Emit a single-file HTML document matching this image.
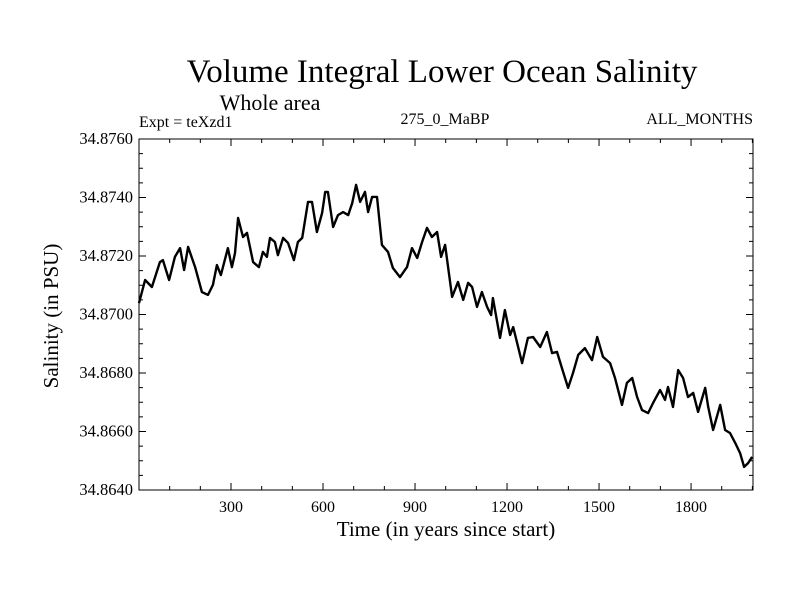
<!DOCTYPE html>
<html><head><meta charset="utf-8"><style>
body{margin:0;background:#fff}
svg text{font-family:"Liberation Serif",serif;fill:#000}
</style></head><body>
<svg id="chart" width="800" height="600" xmlns="http://www.w3.org/2000/svg">
<text x="442" y="82" font-size="33" text-anchor="middle">Volume Integral Lower Ocean Salinity</text>
<text x="270" y="110" font-size="22" text-anchor="middle">Whole area</text>
<text x="139" y="127" font-size="16">Expt = teXzd1</text>
<text x="445" y="124" font-size="16" text-anchor="middle">275_0_MaBP</text>
<text x="753" y="124" font-size="16" text-anchor="end">ALL_MONTHS</text>
<text x="446" y="536" font-size="21" text-anchor="middle">Time (in years since start)</text>
<text transform="translate(58,316) rotate(-90)" font-size="21" text-anchor="middle">Salinity (in PSU)</text>
<g id="axes"></g>
<path id="line" fill="none" stroke="#000" stroke-width="2.4" stroke-linejoin="round"/>
<rect x="139" y="139" width="614" height="351" fill="none" stroke="#000" stroke-width="1"/>
</svg>
<script>
const years=[0,20,42,68,78,98,117,134,147,160,183,205,225,241,254,267,290,303,313,323,339,352,372,391,404,417,427,443,453,470,486,505,518,532,551,564,580,597,607,616,633,649,665,682,695,708,721,737,747,760,776,792,812,828,851,874,890,907,923,939,955,972,985,998,1021,1040,1057,1073,1086,1102,1118,1135,1148,1154,1177,1193,1210,1220,1249,1268,1285,1308,1330,1347,1363,1379,1399,1415,1432,1454,1477,1494,1513,1536,1552,1575,1591,1608,1624,1640,1660,1676,1699,1715,1725,1741,1758,1774,1790,1807,1823,1846,1856,1872,1895,1911,1927,1944,1960,1973,1986,1999];
const salinity=[34.87039,34.87118,34.87094,34.87179,34.87186,34.87118,34.87197,34.87227,34.87152,34.87231,34.87162,34.87077,34.87067,34.87101,34.87169,34.87135,34.87227,34.87162,34.87210,34.87330,34.87265,34.87279,34.87179,34.87162,34.87214,34.87197,34.87262,34.87248,34.87203,34.87262,34.87244,34.87186,34.87248,34.87262,34.87385,34.87385,34.87282,34.87347,34.87419,34.87419,34.87299,34.87340,34.87350,34.87340,34.87381,34.87443,34.87385,34.87419,34.87350,34.87402,34.87402,34.87238,34.87214,34.87159,34.87128,34.87162,34.87227,34.87193,34.87248,34.87296,34.87265,34.87282,34.87197,34.87238,34.87060,34.87111,34.87050,34.87108,34.87094,34.87026,34.87077,34.87026,34.86998,34.87056,34.86920,34.87015,34.86930,34.86957,34.86834,34.86920,34.86923,34.86889,34.86940,34.86868,34.86872,34.86817,34.86749,34.86800,34.86862,34.86885,34.86844,34.86923,34.86855,34.86834,34.86783,34.86691,34.86766,34.86783,34.86718,34.86673,34.86663,34.86697,34.86742,34.86708,34.86752,34.86684,34.86810,34.86783,34.86718,34.86732,34.86667,34.86749,34.86684,34.86605,34.86691,34.86605,34.86595,34.86561,34.86526,34.86479,34.86492,34.86513];
const xTicks=[300,600,900,1200,1500,1800];
const yTicks=[34.864,34.866,34.868,34.870,34.872,34.874,34.876];
const X0=139,X1=753,Y0=139,Y1=490,XMIN=0,XMAX=2002,YMIN=34.864,YMAX=34.876;
const xs=v=>X0+(v-XMIN)/(XMAX-XMIN)*(X1-X0);
const ys=v=>Y1-(v-YMIN)/(YMAX-YMIN)*(Y1-Y0);
const NS='http://www.w3.org/2000/svg';
const axes=document.getElementById('axes');
function ln(x1,y1,x2,y2){const l=document.createElementNS(NS,'line');l.setAttribute('x1',x1);l.setAttribute('y1',y1);l.setAttribute('x2',x2);l.setAttribute('y2',y2);l.setAttribute('stroke','#000');axes.appendChild(l);return l;}
for(let v=100;v<XMAX;v+=100){const maj=v%300===0;const L=maj?7:4;
const a=ln(xs(v),Y1,xs(v),Y1-L);
const b=ln(xs(v),Y0,xs(v),Y0+L);}
for(let i=0;i<=24;i++){const v=YMIN+i*0.0005;const maj=i%4===0;const L=maj?7:4;
const a=ln(X0,ys(v),X0+L,ys(v));
const b=ln(X1,ys(v),X1-L,ys(v));}
xTicks.forEach(v=>{const t=document.createElementNS(NS,'text');t.setAttribute('x',xs(v));t.setAttribute('y',Y1+22);t.setAttribute('font-size','16');t.setAttribute('text-anchor','middle');t.textContent=v;


axes.appendChild(t);});
yTicks.forEach(v=>{const t=document.createElementNS(NS,'text');t.setAttribute('x',X0-6);t.setAttribute('y',ys(v)+5);t.setAttribute('font-size','16.5');t.setAttribute('text-anchor','end');t.textContent=v.toFixed(4);


axes.appendChild(t);});
document.getElementById('line').setAttribute('d',years.map((y,i)=>(i?'L':'M')+xs(y).toFixed(1)+','+ys(salinity[i]).toFixed(1)).join(''));
</script>
</body></html>
